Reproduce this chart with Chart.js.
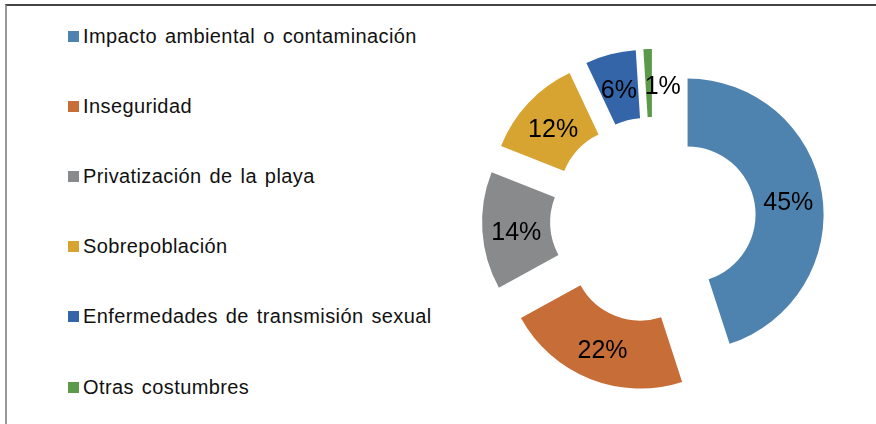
<!DOCTYPE html>
<html lang="es">
  <head>
    <meta charset="UTF-8" />
    <title>Impactos</title>
    <script src="https://cdn.jsdelivr.net/npm/chart.js"></script>
    <style>
      html, body { margin: 0; padding: 0; background: #fff; }
      body { width: 876px; height: 424px; position: relative; overflow: hidden;
             font-family: "Liberation Sans", Arial, sans-serif; }
      .frame { position: absolute; left: 5px; top: 4px; right: 0; bottom: 0;
               border-top: 2px solid #444; border-left: 2px solid #999; }
      .legend-item { position: absolute; left: 68px; height: 22px; display: flex;
                     align-items: center; font-size: 20px; letter-spacing: 0.4px;
                     word-spacing: 2px; color: #111; white-space: nowrap; }
      .legend-item span.box { width: 11px; height: 11px; margin-right: 4px; display: inline-block; }
      #chartBox { position: absolute; left: 478px; top: 45px; width: 350px; height: 350px; }
    </style>
  </head>
  <body>
    <div class="frame"></div>
    <div id="legend"></div>
    <div id="chartBox"><canvas id="donut"></canvas></div>

    <script>
      const categories = [
        "Impacto ambiental o contaminación",
        "Inseguridad",
        "Privatización de la playa",
        "Sobrepoblación",
        "Enfermedades de transmisión sexual",
        "Otras costumbres",
      ];
      const percentages = [45, 22, 14, 12, 6, 1];
      const sliceColors = ["#4e83af", "#c76e38", "#888a8c", "#d7a431", "#3465a9", "#5a9a48"];

      // legend on the left, rows ~70px apart
      const legendEl = document.getElementById("legend");
      categories.forEach((name, i) => {
        const row = document.createElement("div");
        row.className = "legend-item";
        row.style.top = 25 + i * 70.2 + "px";
        row.innerHTML = `<span class="box" style="background:${sliceColors[i]}"></span>${name}`;
        legendEl.appendChild(row);
      });

      // each slice pulled out from the centre (Excel "explosion")
      const explode = 35;
      const labelNudgeX = [0, 0, 0, 0, 0, 14];
      const labelSize = 25;

      const explodedArcs = {
        id: "explodedArcs",
        beforeDatasetDraw(chart, args) {
          const ctx = chart.ctx;
          const arcs = args.meta.data;
          arcs.forEach((arc) => {
            const mid = (arc.startAngle + arc.endAngle) / 2;
            ctx.save();
            ctx.translate(Math.cos(mid) * explode, Math.sin(mid) * explode);
            arc.draw(ctx);
            ctx.restore();
          });
          // percentage labels, caps centred on the slice middle
          ctx.save();
          ctx.font = labelSize + "px 'Liberation Sans', Arial, sans-serif";
          ctx.fillStyle = "#000";
          ctx.textAlign = "center";
          ctx.textBaseline = "alphabetic";
          arcs.forEach((arc, i) => {
            const mid = (arc.startAngle + arc.endAngle) / 2;
            const r = (arc.innerRadius + arc.outerRadius) / 2 + explode;
            const x = arc.x + Math.cos(mid) * r + labelNudgeX[i];
            const y = arc.y + Math.sin(mid) * r + 2 + labelSize * 0.36;
            ctx.fillText(percentages[i] + "%", x, y);
          });
          ctx.restore();
          return false;
        },
      };

      new Chart(document.getElementById("donut"), {
        type: "doughnut",
        data: {
          labels: categories,
          datasets: [
            {
              data: percentages,
              backgroundColor: sliceColors,
              borderWidth: 0,
            },
          ],
        },
        options: {
          responsive: true,
          maintainAspectRatio: false,
          animation: false,
          radius: 136,
          cutout: "50%",
          layout: { padding: 0 },
          plugins: {
            legend: { display: false },
            tooltip: { enabled: false },
          },
        },
        plugins: [explodedArcs],
      });
    </script>
  </body>
</html>
